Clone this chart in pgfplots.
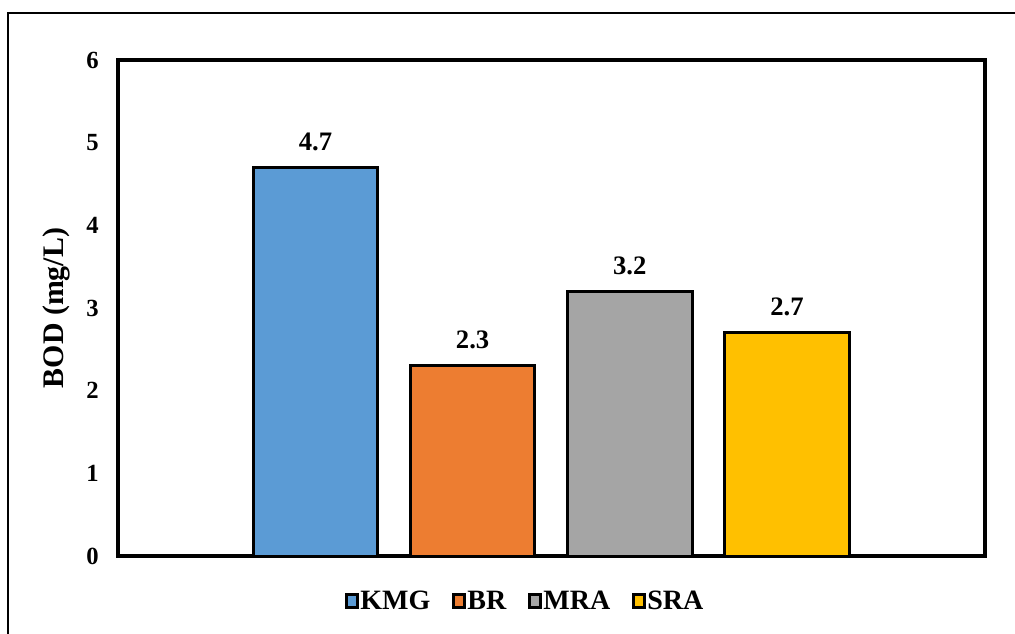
\documentclass[border=0pt]{standalone}
\usepackage{fontspec}
\setmainfont{Liberation Serif}
\usepackage{pgfplots}
\pgfplotsset{compat=1.18}

\definecolor{kmg}{HTML}{5B9BD5}
\definecolor{br}{HTML}{ED7D31}
\definecolor{mra}{HTML}{A5A5A5}
\definecolor{sra}{HTML}{FFC000}

\newcommand{\tickfont}{\bfseries\fontsize{18.5}{22}\selectfont}
\newcommand{\labelfont}{\bfseries\fontsize{20}{24}\selectfont}
\newcommand{\legendfont}{\bfseries\fontsize{21}{25}\selectfont}

\begin{document}
\begin{tikzpicture}
\useasboundingbox (0pt,0pt) rectangle (761.25pt,475.5pt);
% outer chart frame
\draw[line width=1.5pt] (6.2pt,-5pt) -- (6.2pt,466.1pt) -- (775pt,466.1pt);
\begin{axis}[
  at={(88.5pt,58.5pt)}, anchor=south west,
  scale only axis,
  width=650.25pt, height=372pt,
  ymin=0, ymax=6,
  ytick={0,1,2,3,4,5,6},
  xmin=-1.256, xmax=4.26,
  xtick=\empty,
  major tick length=0pt,
  axis line style={line width=2.4pt, black},
  /pgf/number format/assume math mode=true,
  yticklabel style={font=\tickfont, xshift=-11pt},
  ylabel={BOD (mg/L)},
  ylabel style={font=\bfseries\fontsize{22.4}{26}\selectfont, at={(axis description cs:-0.0705,0.5)}, anchor=center},
  ybar, bar width=93.5pt,
  every axis plot/.append style={bar shift=0pt, draw=black, line width=2.2pt},
  nodes near coords,
  nodes near coords style={font=\labelfont, yshift=8pt},
  legend columns=4,
  legend style={draw=none, fill=none, font=\legendfont,
    at={(axis description cs:0.469,-0.0907)}, anchor=center,
    /tikz/every even column/.append style={column sep=15pt},
    nodes={inner xsep=1pt}},
  legend image code/.code={\draw[#1, line width=2.4pt] (0pt,-4.6pt) rectangle (8.4pt,5pt);},
]
\addplot[fill=kmg] coordinates {(0,4.7)};
\addplot[fill=br]  coordinates {(1,2.3)};
\addplot[fill=mra] coordinates {(2,3.2)};
\addplot[fill=sra] coordinates {(3,2.7)};
\legend{KMG,BR,MRA,SRA}
\end{axis}
\end{tikzpicture}
\end{document}
